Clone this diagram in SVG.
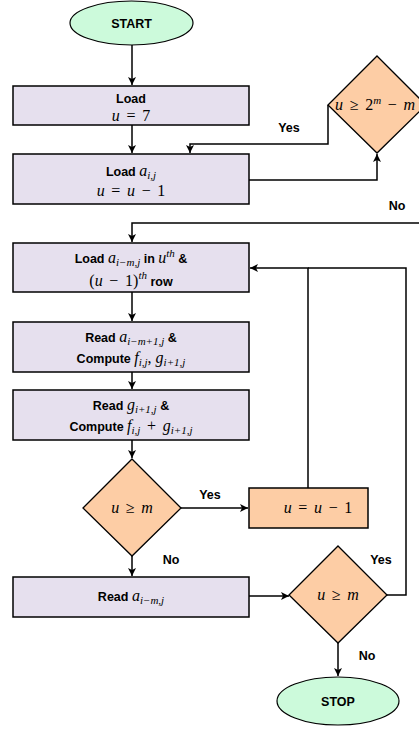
<svg xmlns="http://www.w3.org/2000/svg" width="419" height="729" viewBox="0 0 419 729">
<style>
.term{fill:#ccfadb;stroke:#000;stroke-width:1.2}
.proc{fill:#e6e0ee;stroke:#000;stroke-width:1.5}
.dec{fill:#fdcda5;stroke:#000;stroke-width:1.3}
.op{fill:#fdcda5;stroke:#000;stroke-width:1.5}
.b{font-family:"Liberation Sans",Arial,sans-serif;font-weight:bold;font-size:12.5px;fill:#000}
.m{font-family:"Liberation Serif","Times New Roman",serif;font-size:16px;fill:#000}
.i{font-style:italic}
.s{font-size:11px}
.c{fill:none;stroke:#000;stroke-width:1.5}
</style>
<defs>
<marker id="ah" viewBox="0 0 10 10" refX="10" refY="5" markerWidth="8" markerHeight="8" orient="auto" markerUnits="userSpaceOnUse">
<path d="M0,0 L10,5 L0,10 L2.5,5 z" fill="#000"/>
</marker>
</defs>
<g id="connectors">
<line class="c" x1="132" y1="45" x2="132" y2="85" marker-end="url(#ah)"/>
<line class="c" x1="132" y1="125" x2="132" y2="153" marker-end="url(#ah)"/>
<polyline class="c" points="328,105 328,144 190,144 190,153" marker-end="url(#ah)"/>
<polyline class="c" points="249,180 377,180 377,154" marker-end="url(#ah)"/>
<polyline class="c" points="419,223 132,223 132,242" marker-end="url(#ah)"/>
<line class="c" x1="132" y1="292" x2="132" y2="321" marker-end="url(#ah)"/>
<line class="c" x1="132" y1="372" x2="132" y2="389" marker-end="url(#ah)"/>
<line class="c" x1="132" y1="440" x2="132" y2="458" marker-end="url(#ah)"/>
<line class="c" x1="181" y1="508" x2="248" y2="508" marker-end="url(#ah)"/>
<polyline class="c" points="308,488 308,268 250,268" marker-end="url(#ah)"/>
<polyline class="c" points="387,595 406,595 406,268 308,268"/>
<line class="c" x1="132" y1="556" x2="132" y2="576" marker-end="url(#ah)"/>
<line class="c" x1="249" y1="596" x2="289" y2="596" marker-end="url(#ah)"/>
<line class="c" x1="338" y1="643" x2="338" y2="676" marker-end="url(#ah)"/>
<text class="b" x="289" y="132" text-anchor="middle">Yes</text>
<text class="b" x="397" y="210" text-anchor="middle">No</text>
<text class="b" x="210" y="499" text-anchor="middle">Yes</text>
<text class="b" x="171" y="564" text-anchor="middle">No</text>
<text class="b" x="381" y="564" text-anchor="middle">Yes</text>
<text class="b" x="367" y="660" text-anchor="middle">No</text>
</g>
<g id="start">
<ellipse class="term" cx="131.5" cy="23" rx="61.5" ry="22"/>
<text class="b" x="131.5" y="28" text-anchor="middle">START</text>
</g>
<g id="load-u7">
<rect class="proc" x="13" y="86" width="236" height="39"/>
<text class="b" x="131" y="103" text-anchor="middle">Load</text>
<text class="m" x="131" y="121" text-anchor="middle"><tspan class="i">u</tspan>&#8196;&#8202;=&#8196;&#8202;7</text>
</g>
<g id="load-aij">
<rect class="proc" x="13" y="154" width="236" height="50"/>
<text x="131" y="176" text-anchor="middle"><tspan class="b">Load </tspan><tspan class="m i">a</tspan><tspan class="m i s" dy="3">i,j</tspan></text>
<text class="m" x="131" y="196" text-anchor="middle"><tspan class="i">u</tspan>&#8196;&#8202;=&#8196;&#8202;<tspan class="i">u</tspan>&#8196;&#8202;−&#8196;&#8202;1</text>
</g>
<g id="decision-1">
<polygon class="dec" points="377,56 426,105 377,153 328,105"/>
<text class="m" x="335" y="110"><tspan class="i">u</tspan>&#8196;&#8202;≥&#8196;&#8202;2<tspan class="i s" dy="-6">m</tspan><tspan dy="6">&#8196;&#8202;−&#8196;&#8202;</tspan><tspan class="i">m</tspan></text>
</g>
<g id="load-aimj">
<rect class="proc" x="13" y="243" width="236" height="49"/>
<text x="131" y="263" text-anchor="middle"><tspan class="b">Load </tspan><tspan class="m i">a</tspan><tspan class="m i s" dy="3">i−m,j</tspan><tspan class="b" dy="-3"> in </tspan><tspan class="m i">u</tspan><tspan class="m i s" dy="-6">th</tspan><tspan class="b" dy="6"> &amp;</tspan></text>
<text x="131" y="286" text-anchor="middle"><tspan class="m">(<tspan class="i">u</tspan>&#8196;&#8202;−&#8196;&#8202;1)</tspan><tspan class="m i s" dy="-7">th</tspan><tspan class="b" dy="7"> row</tspan></text>
</g>
<g id="read-compute-1">
<rect class="proc" x="13" y="322" width="236" height="50"/>
<text x="131" y="342" text-anchor="middle"><tspan class="b">Read </tspan><tspan class="m i">a</tspan><tspan class="m i s" dy="3">i−m+1,j</tspan><tspan class="b" dy="-3">  &amp;</tspan></text>
<text x="131" y="363" text-anchor="middle"><tspan class="b">Compute </tspan><tspan class="m i">f</tspan><tspan class="m i s" dy="3">i,j</tspan><tspan class="m" dy="-3">, </tspan><tspan class="m i">g</tspan><tspan class="m i s" dy="3">i+1,j</tspan></text>
</g>
<g id="read-compute-2">
<rect class="proc" x="13" y="390" width="236" height="50"/>
<text x="131" y="410" text-anchor="middle"><tspan class="b">Read </tspan><tspan class="m i">g</tspan><tspan class="m i s" dy="3">i+1,j</tspan><tspan class="b" dy="-3">  &amp;</tspan></text>
<text x="131" y="431" text-anchor="middle"><tspan class="b">Compute </tspan><tspan class="m i">f</tspan><tspan class="m i s" dy="3">i,j</tspan><tspan class="m" dy="-3">&#8196;&#8202;+&#8196;&#8202;</tspan><tspan class="m i">g</tspan><tspan class="m i s" dy="3">i+1,j</tspan></text>
</g>
<g id="decision-2">
<polygon class="dec" points="132,459 181,508 132,556 83,508"/>
<text class="m" x="132" y="513" text-anchor="middle"><tspan class="i">u</tspan>&#8196;&#8202;≥&#8196;&#8202;<tspan class="i">m</tspan></text>
</g>
<g id="decrement">
<rect class="op" x="249" y="488" width="119" height="40"/>
<text class="m" x="318" y="513" text-anchor="middle"><tspan class="i">u</tspan>&#8196;&#8202;=&#8196;&#8202;<tspan class="i">u</tspan>&#8196;&#8202;−&#8196;&#8202;1</text>
</g>
<g id="read-aimj">
<rect class="proc" x="13" y="577" width="236" height="40"/>
<text x="131" y="601" text-anchor="middle"><tspan class="b">Read  </tspan><tspan class="m i">a</tspan><tspan class="m i s" dy="3">i−m,j</tspan></text>
</g>
<g id="decision-3">
<polygon class="dec" points="338,546 387,595 338,643 289,595"/>
<text class="m" x="338" y="600" text-anchor="middle"><tspan class="i">u</tspan>&#8196;&#8202;≥&#8196;&#8202;<tspan class="i">m</tspan></text>
</g>
<g id="stop">
<ellipse class="term" cx="338" cy="701" rx="61" ry="24"/>
<text class="b" x="338" y="706" text-anchor="middle">STOP</text>
</g>
</svg>
